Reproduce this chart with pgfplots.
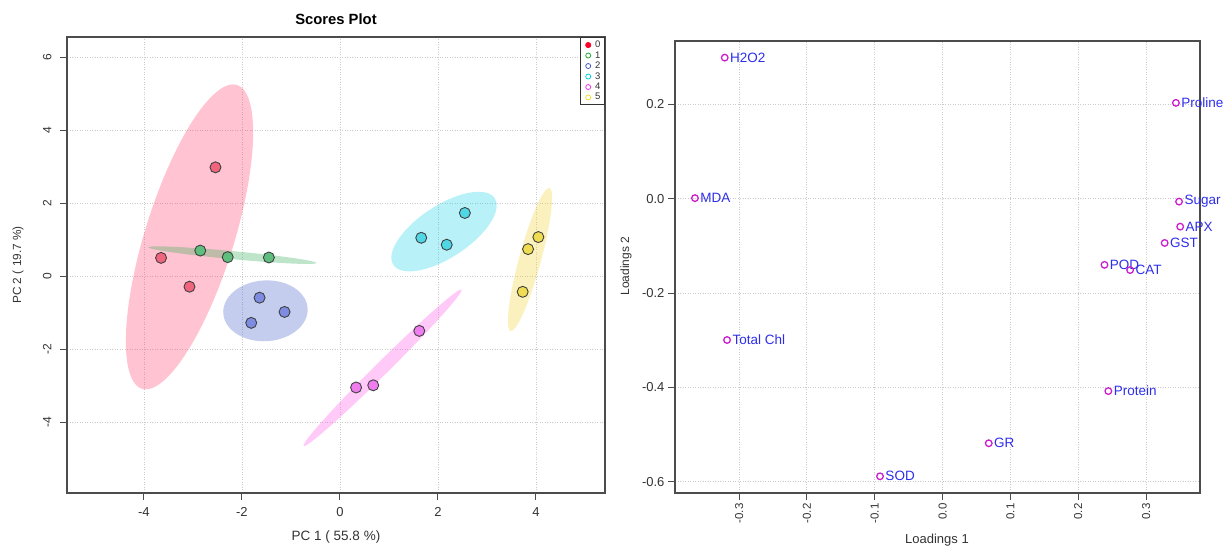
\documentclass[border=0pt]{standalone}
\usepackage{fontspec}
\setmainfont{Liberation Sans}
\usepackage{pgfplots}
\pgfplotsset{compat=1.18}
\definecolor{e0}{RGB}{255,40,90}
\definecolor{e1}{RGB}{40,170,80}
\definecolor{e2}{RGB}{60,90,200}
\definecolor{e3}{RGB}{0,210,230}
\definecolor{e4}{RGB}{255,80,230}
\definecolor{e5}{RGB}{240,210,40}
\definecolor{p0}{RGB}{240,100,125}
\definecolor{p1}{RGB}{95,190,125}
\definecolor{p2}{RGB}{125,140,225}
\definecolor{p3}{RGB}{80,215,230}
\definecolor{p4}{RGB}{240,125,240}
\definecolor{p5}{RGB}{240,220,80}
\definecolor{l0}{RGB}{255,0,40}
\definecolor{l1}{RGB}{40,170,60}
\definecolor{l2}{RGB}{70,90,200}
\definecolor{l3}{RGB}{0,210,230}
\definecolor{l4}{RGB}{240,60,230}
\definecolor{l5}{RGB}{240,220,60}
\definecolor{mg}{RGB}{205,30,205}
\definecolor{lb}{RGB}{45,45,235}
\begin{document}
\begin{tikzpicture}[x=1pt,y=1pt]
\useasboundingbox (0,0) rectangle (1229,546);
\begin{axis}[
  at={(67pt,53pt)}, anchor=south west, scale only axis,
  width=538pt, height=456pt,
  xmin=-5.57, xmax=5.41, ymin=-5.93, ymax=6.56,
  xtick={-4,-2,0,2,4}, xticklabels={-4,-2,0,2,4},
  ytick={-4,-2,0,2,4,6}, yticklabels={-4,-2,0,2,4,6},
  tick align=outside, xtick pos=bottom, ytick pos=left,
  major tick length=7pt,
  grid=major, grid style={dash pattern=on 1pt off 1.5pt, black!20, line width=0.8pt},
  axis line style={black!70, line width=1.2pt},
  tick style={black!70, line width=1pt},
  xticklabel style={font=\fontsize{13}{15}\selectfont, text=black!80, yshift=-4pt},
  yticklabel style={font=\fontsize{12}{14}\selectfont, text=black!80, rotate=90, anchor=south, yshift=5pt},
  xlabel={PC 1 ( 55.8 \%)}, ylabel={PC 2 ( 19.7 \%)},
  every axis x label/.style={at={(axis description cs:0.5,-0.0965)}, anchor=center, font=\fontsize{13.5}{15}\selectfont, text=black!80},
  every axis y label/.style={at={(axis description cs:-0.0911,0.5)}, rotate=90, anchor=center, font=\fontsize{11.8}{14}\selectfont, text=black!80},
  title={Scores Plot},
  every axis title/.style={at={(axis description cs:0.5,1.0384)}, anchor=center, font=\bfseries\fontsize{14.8}{17}\selectfont},
  legend style={at={(1,1)}, anchor=north east, draw=black!80, line width=1pt, font=\fontsize{9.5}{9.5}\selectfont, inner xsep=2pt, inner ysep=1.5pt, row sep=-1.6pt, text=black!80,
    /tikz/every odd column/.append style={column sep=2.5pt}},
  legend cell align=left,
  legend image code/.code={\path[draw=none,fill=none] (0pt,-2pt) rectangle (8pt,2pt); \draw[#1] plot coordinates {(6pt,0pt)};},
]
% ellipses
\addplot[draw=none, fill=e0, fill opacity=0.28, domain=0:360, samples=91, forget plot]
  ({-3.07+0.97*cos(x)+0.865*sin(x)}, {1.085+4.16*cos(x)-0.367*sin(x)});
\addplot[draw=none, fill=e1, fill opacity=0.3, domain=0:360, samples=91, forget plot]
  ({-2.195+1.715*cos(x)-0.008*sin(x)}, {0.585-0.215*cos(x)-0.11*sin(x)});
\addplot[draw=none, fill=e2, fill opacity=0.3, domain=0:360, samples=91, forget plot]
  ({-1.52+0.86*cos(x)-0.05*sin(x)}, {-0.94+0.08*cos(x)+0.83*sin(x)});
\addplot[draw=none, fill=e3, fill opacity=0.28, domain=0:360, samples=91, forget plot]
  ({2.125+1.035*cos(x)+0.29*sin(x)}, {1.23+0.91*cos(x)-0.60*sin(x)});
\addplot[draw=none, fill=e4, fill opacity=0.3, domain=0:360, samples=91, forget plot]
  ({0.87+1.61*cos(x)+0.094*sin(x)}, {-2.50+2.14*cos(x)-0.126*sin(x)});
\addplot[draw=none, fill=e5, fill opacity=0.3, domain=0:360, samples=91, forget plot]
  ({3.88+0.395*cos(x)+0.216*sin(x)}, {0.465+1.955*cos(x)-0.079*sin(x)});
% points
\addplot[only marks, mark=*, mark size=5.5pt, mark options={fill=p0, draw=black!75, line width=0.9pt}, forget plot]
  coordinates {(-2.54,2.99) (-3.65,0.51) (-3.07,-0.28)};
\addplot[only marks, mark=*, mark size=5.5pt, mark options={fill=p1, draw=black!75, line width=0.9pt}, forget plot]
  coordinates {(-2.85,0.71) (-2.29,0.53) (-1.45,0.52)};
\addplot[only marks, mark=*, mark size=5.5pt, mark options={fill=p2, draw=black!75, line width=0.9pt}, forget plot]
  coordinates {(-1.64,-0.58) (-1.81,-1.27) (-1.13,-0.97)};
\addplot[only marks, mark=*, mark size=5.5pt, mark options={fill=p3, draw=black!75, line width=0.9pt}, forget plot]
  coordinates {(1.66,1.06) (2.18,0.87) (2.55,1.74)};
\addplot[only marks, mark=*, mark size=5.5pt, mark options={fill=p4, draw=black!75, line width=0.9pt}, forget plot]
  coordinates {(1.62,-1.49) (0.33,-3.04) (0.68,-2.98)};
\addplot[only marks, mark=*, mark size=5.5pt, mark options={fill=p5, draw=black!75, line width=0.9pt}, forget plot]
  coordinates {(4.05,1.08) (3.84,0.75) (3.73,-0.42)};
% legend
\addlegendimage{only marks, mark=*, mark size=2.5pt, color=l0}
\addlegendentry{0}
\addlegendimage{only marks, mark=o, mark size=2.5pt, color=l1, line width=0.8pt}
\addlegendentry{1}
\addlegendimage{only marks, mark=o, mark size=2.5pt, color=l2, line width=0.8pt}
\addlegendentry{2}
\addlegendimage{only marks, mark=o, mark size=2.5pt, color=l3, line width=0.8pt}
\addlegendentry{3}
\addlegendimage{only marks, mark=o, mark size=2.5pt, color=l4, line width=0.8pt}
\addlegendentry{4}
\addlegendimage{only marks, mark=o, mark size=2.5pt, color=l5, line width=0.8pt}
\addlegendentry{5}
\end{axis}
\begin{axis}[
  at={(675pt,53pt)}, anchor=south west, scale only axis,
  width=525pt, height=452pt,
  xmin=-0.3944, xmax=0.3795, ymin=-0.6238, ymax=0.3347,
  xtick={-0.3,-0.2,-0.1,0,0.1,0.2,0.3}, xticklabels={-0.3,-0.2,-0.1,0.0,0.1,0.2,0.3},
  ytick={-0.6,-0.4,-0.2,0,0.2}, yticklabels={-0.6,-0.4,-0.2,0.0,0.2},
  tick align=outside, xtick pos=bottom, ytick pos=left,
  major tick length=7pt,
  grid=major, grid style={dash pattern=on 1pt off 1.5pt, black!20, line width=0.8pt},
  axis line style={black!70, line width=1.2pt},
  tick style={black!70, line width=1pt},
  xticklabel style={rotate=90, anchor=east, font=\fontsize{11.5}{13}\selectfont, text=black!80},
  yticklabel style={font=\fontsize{13}{14}\selectfont, text=black!80},
  xlabel={Loadings 1}, ylabel={Loadings 2},
  every axis x label/.style={at={(axis description cs:0.499,-0.1033)}, anchor=center, font=\fontsize{13}{14}\selectfont, text=black!80},
  every axis y label/.style={at={(axis description cs:-0.0933,0.502)}, rotate=90, anchor=center, font=\fontsize{12}{14}\selectfont, text=black!80},
]
\addplot[only marks, mark=o, mark size=3.3pt, color=mg, line width=1.3pt,
  nodes near coords, point meta=explicit symbolic,
  every node near coord/.style={anchor=west, xshift=1.5pt, text=lb, font=\fontsize{13.5}{15}\selectfont}]
  table[meta=lab] {
x y lab
-0.3211 0.2994 H2O2
0.3440 0.2035 Proline
-0.3650 0.0015 MDA
0.3486 -0.0059 Sugar
0.3503 -0.0590 APX
0.3274 -0.0936 GST
0.2387 -0.1400 POD
0.2765 -0.1510 CAT
-0.3177 -0.2994 {Total Chl}
0.2444 -0.4077 Protein
0.0681 -0.5183 GR
-0.0922 -0.5884 SOD
};
\end{axis}
\end{tikzpicture}
\end{document}
